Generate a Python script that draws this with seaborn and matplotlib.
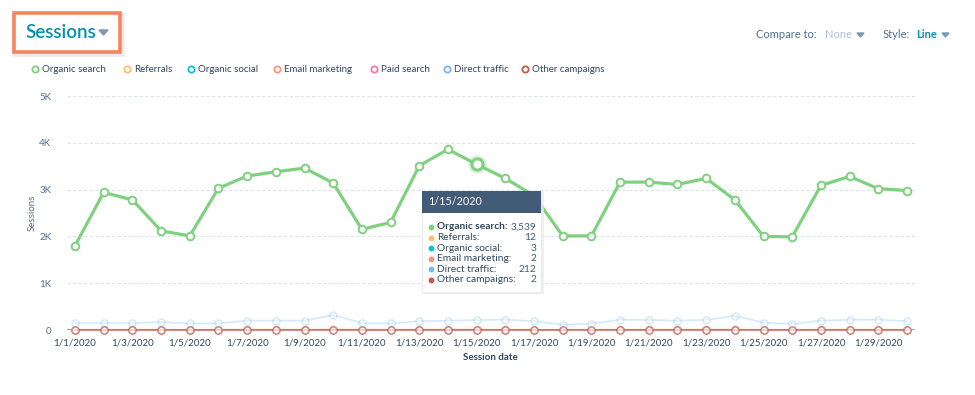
import numpy as np
import pandas as pd
import matplotlib.pyplot as plt
import seaborn as sns
from matplotlib.patches import Rectangle, Polygon
from matplotlib.lines import Line2D

# data (sessions per day, Jan 2020)
dates = pd.date_range('2020-01-01', periods=30)
date_labels = [f"{d.month}/{d.day}/{d.year}" for d in dates]

organic_search = [1800, 2940, 2780, 2120, 2010, 3030, 3290, 3380, 3460, 3140,
                  2150, 2300, 3510, 3860, 3539, 3240, 2870, 2010, 2010, 3160,
                  3160, 3110, 3240, 2780, 2000, 1990, 3090, 3280, 3020, 2980]
direct_traffic = [150, 150, 150, 170, 140, 140, 200, 200, 200, 320,
                  150, 140, 190, 200, 212, 220, 190, 115, 135, 220,
                  215, 200, 215, 305, 157, 130, 200, 220, 220, 190]
referrals = [10, 11, 12, 10, 9, 9, 13, 12, 11, 14,
             10, 9, 12, 13, 12, 11, 10, 8, 9, 12,
             12, 11, 13, 14, 9, 8, 11, 12, 12, 10]
organic_social = [2, 3, 3, 2, 1, 2, 3, 4, 3, 3,
                  2, 2, 3, 4, 3, 3, 2, 1, 2, 3,
                  3, 2, 3, 4, 2, 1, 3, 3, 3, 2]
email_marketing = [1, 2, 2, 1, 1, 1, 2, 3, 2, 2,
                   1, 1, 2, 2, 2, 2, 1, 1, 1, 2,
                   2, 2, 2, 3, 1, 1, 2, 2, 2, 1]
paid_search = [0] * 30
other_campaigns = [2, 2, 1, 2, 1, 1, 2, 2, 2, 3,
                   1, 1, 2, 2, 2, 2, 1, 1, 1, 2,
                   2, 2, 2, 3, 1, 1, 2, 2, 2, 2]

series_names = ['Organic search', 'Referrals', 'Organic social', 'Email marketing',
                'Paid search', 'Direct traffic', 'Other campaigns']
series_colors = ['#7fd17f', '#fdbf6f', '#00c8d7', '#f8977b',
                 '#f27ba3', '#7ab8f5', '#c85a46']
series_values = [organic_search, referrals, organic_social, email_marketing,
                 paid_search, direct_traffic, other_campaigns]

tooltip_rows = [('Organic search:', '3,539'), ('Referrals:', '12'),
                ('Organic social:', '3'), ('Email marketing:', '2'),
                ('Direct traffic:', '212'), ('Other campaigns:', '2')]
tooltip_colors = ['#7fd17f', '#fdbf6f', '#00c8d7', '#f8977b', '#7ab8f5', '#c85a46']
hover_idx = 14

W, H = 975, 395


def fx(x):
    return x / W


def fy(y):
    return 1 - y / H


sns.set_theme(style='white')
plt.rcParams['font.family'] = ['Lato', 'DejaVu Sans']

fig = plt.figure(figsize=(W / 100, H / 100), dpi=100)
ax = fig.add_axes([fx(66.7), fy(330), fx(915) - fx(66.7), fy(96) - fy(330)])

x = np.arange(len(dates))
df = pd.DataFrame({'x': x})
for name, vals in zip(series_names, series_values):
    df[name] = vals

# faded series first, highlighted green on top
for name, col in zip(series_names[1:], series_colors[1:]):
    alpha = 0.3 if name == 'Direct traffic' else 0.5
    sns.lineplot(data=df, x='x', y=name, ax=ax, color=col, lw=1.2, alpha=alpha,
                 marker='o', markersize=5, markerfacecolor='white',
                 markeredgecolor=col, markeredgewidth=1.1, clip_on=False, zorder=3)

ax.axhline(0, color='#7c98b6', lw=1.2, zorder=2)

sns.lineplot(data=df, x='x', y='Organic search', ax=ax, color=series_colors[0], lw=2.3,
             marker='o', markersize=5.5, markerfacecolor='white',
             markeredgecolor=series_colors[0], markeredgewidth=1.4, zorder=5)
# hover point
ax.plot(x[hover_idx], organic_search[hover_idx], 'o', ms=13, color=series_colors[0],
        alpha=0.3, zorder=6, mec='none')
ax.plot(x[hover_idx], organic_search[hover_idx], 'o', ms=8, mfc='white',
        mec=series_colors[0], mew=2.2, zorder=7)

ax.set_xlim(-0.29, 29.28)
ax.set_ylim(0, 5000)
ax.set_yticks([0, 1000, 2000, 3000, 4000, 5000])
ax.set_yticklabels(['0', '1K', '2K', '3K', '4K', '5K'])
ax.set_xticks(x[::2])
ax.set_xticklabels(date_labels[::2])
ax.tick_params(axis='both', length=0, labelsize=7, colors='#33475b')
ax.tick_params(axis='x', pad=6)
ax.tick_params(axis='y', pad=11)
for t in ax.get_yticklabels():
    t.set_color('#516f90')
for yv in [1000, 2000, 3000, 4000, 5000]:
    ax.axhline(yv, color='#dbe4f0', lw=0.8, ls=(0, (3, 2)), zorder=1)
for s in ax.spines.values():
    s.set_visible(False)
ax.set_xlabel('Session date', fontsize=7, fontweight='bold', color='#33475b', labelpad=4)
ax.set_ylabel('Sessions', fontsize=7, color='#516f90', labelpad=2)

# title with orange frame
fig.patches.append(Rectangle((fx(15), fy(54)), fx(107), fy(15) - fy(53), transform=fig.transFigure,
                             facecolor='none', edgecolor='#e0e0e0', lw=4, alpha=0.6))
fig.patches.append(Rectangle((fx(14), fy(52)), fx(106), fy(13) - fy(52), transform=fig.transFigure,
                             facecolor='white', edgecolor='#f5845f', lw=2.6))
fig.text(fx(25), fy(32), 'Sessions', fontsize=13.5, fontweight='semibold', color='#0091ae', va='center')
fig.patches.append(Polygon([(fx(99), fy(30)), (fx(108), fy(30)), (fx(103.5), fy(35))],
                           transform=fig.transFigure, color='#7c98b6'))

# compare / style controls
fig.text(fx(756), fy(35), 'Compare to:', fontsize=8, color='#516f90', va='center')
fig.text(fx(825), fy(35), 'None', fontsize=8, color='#b0c1d4', va='center')
fig.patches.append(Polygon([(fx(857), fy(33)), (fx(864), fy(33)), (fx(860.5), fy(37))],
                           transform=fig.transFigure, color='#7c98b6'))
fig.text(fx(883), fy(35), 'Style:', fontsize=8, color='#516f90', va='center')
fig.text(fx(916), fy(35), 'Line', fontsize=8, fontweight='bold', color='#0091ae', va='center')
fig.patches.append(Polygon([(fx(942), fy(33)), (fx(949), fy(33)), (fx(945.5), fy(37))],
                           transform=fig.transFigure, color='#7c98b6'))

# legend row
legend_x = [35, 127, 191, 277, 374, 447, 525]
for lx, name, col in zip(legend_x, series_names, series_colors):
    fig.add_artist(Line2D([fx(lx)], [fy(69)], marker='o', ms=4.5, mfc='white', mec=col,
                          mew=1.3, transform=fig.transFigure))
    fig.text(fx(lx + 7), fy(69), name, fontsize=7, color='#33475b', va='center')

# tooltip
fig.patches.append(Rectangle((fx(423), fy(294)), fx(121), fy(191) - fy(294), transform=fig.transFigure,
                             facecolor='#e6e9ee', edgecolor='none', alpha=0.7, zorder=8))
fig.patches.append(Rectangle((fx(422), fy(292)), fx(119), fy(191) - fy(292), transform=fig.transFigure,
                             facecolor='white', edgecolor='#e5e8ed', lw=0.6, zorder=9))
fig.patches.append(Rectangle((fx(422), fy(213)), fx(119), fy(191) - fy(213), transform=fig.transFigure,
                             facecolor='#425b76', edgecolor='none', zorder=10))
fig.text(fx(428), fy(202), date_labels[hover_idx], fontsize=7.8, color='white', va='center', zorder=11)
for i, ((lab, val), col) in enumerate(zip(tooltip_rows, tooltip_colors)):
    yy = 227 + i * 10.6
    fig.add_artist(Line2D([fx(431)], [fy(yy)], marker='o', ms=4.2, color=col, mec='none',
                          transform=fig.transFigure, zorder=11))
    fig.text(fx(437), fy(yy), lab, fontsize=7.3, color='#33475b', va='center', zorder=11,
             fontweight='bold' if i == 0 else 'normal')
    fig.text(fx(536), fy(yy), val, fontsize=7.3, color='#425b76', va='center', ha='right', zorder=11)

fig.savefig('out.png', dpi=100, facecolor='white')
